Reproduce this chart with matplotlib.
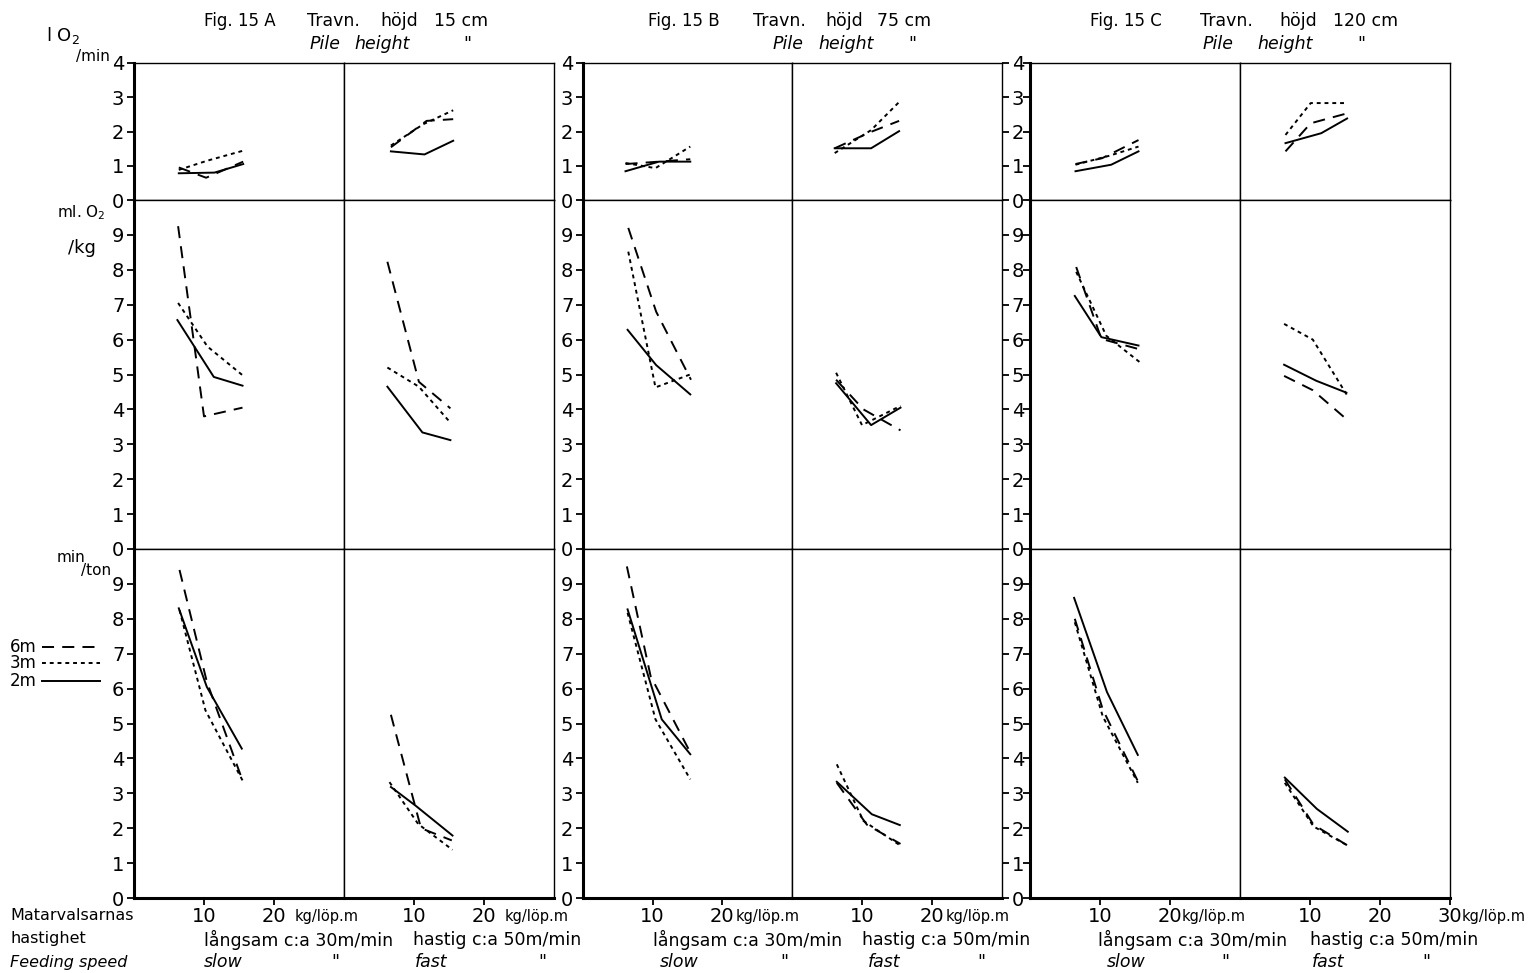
import matplotlib.pyplot as plt
from matplotlib.lines import Line2D

plt.rcParams['font.family'] = ['DejaVu Sans']

# series order in every list below: 6m, 3m, 2m   -> (x kg/löp.m, y)
series = ['6m', '3m', '2m']

# Fig 15 A - pile height 15 cm
A_lo2_slow = [([6.4, 10.3, 15.6], [0.95, 0.65, 1.12]),
              ([6.4, 10.5, 15.6], [0.88, 1.15, 1.44]),
              ([6.4, 11.5, 15.6], [0.78, 0.80, 1.05])]
A_lo2_fast = [([6.7, 11.8, 15.6], [1.54, 2.31, 2.36]),
              ([6.7, 11.3, 15.6], [1.59, 2.21, 2.62]),
              ([6.7, 11.5, 15.6], [1.42, 1.33, 1.73])]
A_mlkg_slow = [([6.3, 10.0, 15.5], [9.25, 3.80, 4.05]),
               ([6.3, 10.5, 15.5], [7.05, 5.80, 4.98]),
               ([6.2, 11.4, 15.5], [6.56, 4.93, 4.68])]
A_mlkg_fast = [([6.2, 10.7, 15.2], [8.23, 4.79, 4.03]),
               ([6.2, 10.7, 15.2], [5.20, 4.65, 3.62]),
               ([6.2, 11.2, 15.2], [4.65, 3.34, 3.12])]
A_mint_slow = [([6.5, 10.4, 15.5], [9.40, 6.20, 3.37]),
               ([6.5, 10.2, 15.5], [8.25, 5.38, 3.37]),
               ([6.4, 10.4, 15.4], [8.30, 6.05, 4.28])]
A_mint_fast = [([6.7, 11.0, 15.4], [5.25, 2.00, 1.65]),
               ([6.5, 10.6, 15.5], [3.32, 2.12, 1.38]),
               ([6.7, 10.2, 15.5], [3.18, 2.65, 1.79])]

# Fig 15 B - pile height 75 cm
B_lo2_slow = [([6.1, 10.9, 15.4], [1.05, 1.12, 1.19]),
              ([6.1, 10.4, 15.4], [1.08, 0.93, 1.56]),
              ([6.1, 10.9, 15.4], [0.84, 1.12, 1.12])]
B_lo2_fast = [([6.1, 11.3, 15.3], [1.51, 1.99, 2.31]),
              ([6.1, 11.3, 15.3], [1.37, 2.04, 2.86]),
              ([6.1, 11.3, 15.3], [1.51, 1.51, 2.01])]
B_mlkg_slow = [([6.5, 10.5, 15.5], [9.20, 6.80, 4.85]),
               ([6.5, 10.4, 15.5], [8.52, 4.63, 5.01]),
               ([6.4, 10.5, 15.4], [6.28, 5.27, 4.43])]
B_mlkg_fast = [([6.3, 10.2, 15.5], [4.85, 4.00, 3.40]),
               ([6.3, 10.0, 15.5], [5.05, 3.55, 4.10]),
               ([6.3, 11.3, 15.5], [4.75, 3.55, 4.05])]
B_mint_slow = [([6.3, 9.7, 15.4], [9.50, 6.36, 4.17]),
               ([6.4, 10.4, 15.4], [8.17, 5.12, 3.40]),
               ([6.4, 11.3, 15.4], [8.27, 5.12, 4.12])]
B_mint_fast = [([6.4, 10.7, 15.5], [3.30, 2.10, 1.55]),
               ([6.4, 10.2, 15.5], [3.83, 2.21, 1.50]),
               ([6.4, 11.4, 15.4], [3.33, 2.40, 2.09])]

# Fig 15 C - pile height 120 cm
C_lo2_slow = [([6.5, 10.3, 15.5], [1.05, 1.22, 1.75]),
              ([6.5, 11.3, 15.5], [1.03, 1.29, 1.56]),
              ([6.5, 11.6, 15.5], [0.84, 1.03, 1.42])]
C_lo2_fast = [([6.5, 10.1, 15.3], [1.42, 2.24, 2.53]),
              ([6.5, 10.1, 15.3], [1.90, 2.83, 2.83]),
              ([6.5, 11.6, 15.3], [1.66, 1.95, 2.38])]
C_mlkg_slow = [([6.6, 10.2, 15.5], [8.08, 6.02, 5.73]),
               ([6.6, 10.9, 15.7], [7.94, 6.11, 5.35]),
               ([6.4, 10.2, 15.5], [7.25, 6.07, 5.83])]
C_mlkg_fast = [([6.3, 10.4, 15.5], [4.96, 4.55, 3.67]),
               ([6.3, 10.4, 15.5], [6.45, 6.00, 4.34]),
               ([6.3, 10.9, 15.2], [5.28, 4.82, 4.48])]
C_mint_slow = [([6.4, 10.4, 15.4], [8.00, 5.40, 3.35]),
               ([6.4, 10.4, 15.4], [7.90, 5.20, 3.30]),
               ([6.3, 11.0, 15.4], [8.60, 5.90, 4.10])]
C_mint_fast = [([6.4, 10.5, 15.4], [3.40, 2.10, 1.50]),
               ([6.4, 10.5, 15.4], [3.30, 2.05, 1.50]),
               ([6.4, 11.0, 15.4], [3.45, 2.55, 1.90])]

panel_data = {
    'A': [(A_lo2_slow, A_lo2_fast), (A_mlkg_slow, A_mlkg_fast), (A_mint_slow, A_mint_fast)],
    'B': [(B_lo2_slow, B_lo2_fast), (B_mlkg_slow, B_mlkg_fast), (B_mint_slow, B_mint_fast)],
    'C': [(C_lo2_slow, C_lo2_fast), (C_mlkg_slow, C_mlkg_fast), (C_mint_slow, C_mint_fast)],
}

W, H = 1538, 973
fig = plt.figure(figsize=(W / 100, H / 100), dpi=100)

LW = 1.4
line_styles = [(0, (6.2, 4.2)), (0, (2.0, 2.0)), '-']


def box(x0, y0, x1, y1):
    return [x0 / W, 1 - y1 / H, (x1 - x0) / W, (y1 - y0) / H]


def ftext(x, y, s, size=12.5, **kw):
    fig.text(x / W, 1 - y / H, s, fontsize=size, va='center', **kw)


# pixel layout: panel x edges (left, divider, right), row y edges and top values
panel_x = {'A': (134, 344, 554), 'B': (583, 792, 1002), 'C': (1030, 1240, 1450)}
unit_gap = {'A': 3.0, 'B': 1.9, 'C': 1.6}
rows = [(63, 200, 4), (200, 549, 10), (549, 898, 10)]

for p, (xl, xm, xr) in panel_x.items():
    for r, (yt, yb, ymax) in enumerate(rows):
        for h, (x0, x1) in enumerate([(xl, xm), (xm, xr)]):
            ax = fig.add_axes(box(x0, yt, x1, yb))
            ax.set_xlim(0, 30)
            ax.set_ylim(0, ymax)
            for (xs, ys), ls in zip(panel_data[p][r][h], line_styles):
                ax.plot(xs, ys, color='black', lw=LW, ls=ls)
            for s in ax.spines.values():
                s.set_linewidth(1.0)
            if h == 0:
                ax.spines['left'].set_linewidth(2.2)
            if r == 2:
                ax.spines['bottom'].set_linewidth(2.2)
            ax.tick_params(left=False, bottom=False, labelleft=False, labelbottom=False,
                           direction='out', length=5, width=1.3, labelsize=14, pad=2)
            yt_vals = list(range(0, ymax + 1)) if r == 0 else list(range(0, ymax))
            ax.set_yticks(yt_vals)
            if h == 0:
                ax.tick_params(left=True, labelleft=(p != 'C'))
            if p == 'B' and h == 1:
                ax.tick_params(right=True, labelright=True)
            if r == 2:
                xt = [10, 20, 30] if (p == 'C' and h == 1) else [10, 20]
                ax.set_xticks(xt)
                ax.set_xticklabels([])
                ax.tick_params(bottom=True, length=5)
                trans = ax.get_xaxis_transform()
                for v in xt:
                    ax.text(v, -18 / 349, str(v), transform=trans, ha='center',
                            va='center', fontsize=14)
                ax.text(xt[-1] + unit_gap[p], -18 / 349, 'kg/löp.m',
                        transform=trans, ha='left', va='center', fontsize=10.5,
                        clip_on=False)
            else:
                ax.set_xticks([])

# titles: label, x of "Fig.", words with x, x of "Pile", "height", quote
titles = {
    'A': ('Fig. 15 A', 204, [('Travn.', 307), ('höjd', 380), ('15 cm', 434)], (310, 354, 463)),
    'B': ('Fig. 15 B', 648, [('Travn.', 753), ('höjd', 825), ('75 cm', 877)], (773, 818, 908)),
    'C': ('Fig. 15 C', 1090, [('Travn.', 1200), ('höjd', 1279), ('120 cm', 1333)], (1203, 1257, 1357)),
}
for p, (fig_lbl, xf, words, (xp, xh, xq)) in titles.items():
    ftext(xf, 21, fig_lbl, size=12)
    for w, xw in words:
        ftext(xw, 21, w, size=12.5)
    ftext(xp, 44, 'Pile', size=12.5, style='italic')
    ftext(xh, 44, 'height', size=12.5, style='italic')
    ftext(xq, 44, '"', size=12.5, style='italic')

# axis unit labels
ftext(46, 35, 'l O$_2$', size=13)
ftext(76, 57, '/min', size=11)
ftext(57, 213, 'ml. O$_2$', size=11)
ftext(68, 248, '/kg', size=13)
ftext(57, 558, 'min', size=11)
ftext(81, 570, '/ton', size=11)

# legend
for (name, ls), y in zip(zip(series, line_styles), [647, 663, 681]):
    ftext(10, y, name, size=12)
    fig.add_artist(Line2D([42 / W, 100 / W], [1 - y / H] * 2, transform=fig.transFigure,
                          color='black', lw=LW, ls=ls))

# bottom captions
ftext(10, 916, 'Matarvalsarnas', size=11.5)
ftext(10, 939, 'hastighet', size=11.5)
ftext(10, 962, 'Feeding speed', size=11.5, style='italic')
captions = {'A': (204, 413, 204, 331, 415, 538),
            'B': (653, 862, 660, 780, 868, 977),
            'C': (1098, 1310, 1107, 1221, 1312, 1422)}
for p, (xs, xf, xsl, xq1, xfa, xq2) in captions.items():
    ftext(xs, 940, 'långsam c:a 30m/min', size=12.5)
    ftext(xf, 940, 'hastig c:a 50m/min', size=12.5)
    ftext(xsl, 962, 'slow', size=12.5, style='italic')
    ftext(xq1, 962, '"', size=12.5, style='italic')
    ftext(xfa, 962, 'fast', size=12.5, style='italic')
    ftext(xq2, 962, '"', size=12.5, style='italic')

fig.savefig('out.png', dpi=100, facecolor='white')
